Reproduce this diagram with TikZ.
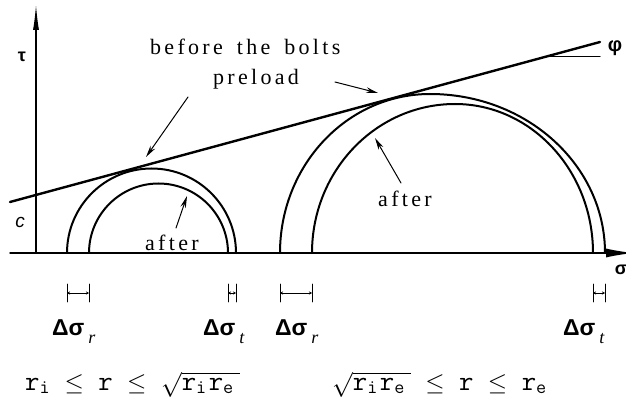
\documentclass[tikz,border=0pt]{standalone}
\usepackage{fontspec}
\setmainfont{Liberation Serif}
\newfontfamily\sansf{Liberation Sans}
\newfontfamily\lblf[LetterSpace=15]{Liberation Serif}
\usetikzlibrary{arrows.meta}
\begin{document}
\begin{tikzpicture}[x=1pt,y=-1pt,line cap=round,
  curve/.style={line width=2pt},
  ax/.style={line width=1.4pt},
  pointer/.style={line width=1pt,-{Stealth[length=12pt,width=5.5pt]}},
  lbl/.style={font=\lblf\fontsize{22}{24}\selectfont,inner sep=0pt,anchor=base west},
  dlt/.style={font=\sansf\bfseries\fontsize{23}{24}\selectfont,inner sep=0pt,anchor=base west},
  frm/.style={font=\ttfamily\fontsize{28}{30}\selectfont,inner sep=0pt,anchor=base west},
  dimline/.style={line width=0.9pt,{Stealth[length=3pt,width=3pt]}-{Stealth[length=3pt,width=3pt]}},
  tickbar/.style={line width=0.9pt},
  axlbl/.style={font=\sansf\bfseries\fontsize{18}{20}\selectfont,inner sep=0pt}
]
\useasboundingbox (0,0) rectangle (626,406);

% axes
\coordinate (O) at (36,253);
\coordinate (xs) at (10,253);
\coordinate (xe) at (634,253);
\coordinate (ye) at (36,4);
\draw[ax,-{Latex[length=28pt,width=9pt]}] (xs) -- (xe);
\draw[ax,-{Latex[length=26pt,width=6pt]}] (O) -- (ye);
\node[axlbl] (tau) at (22,57) {τ};
\node[axlbl] (sig) at (621,270) {σ};
\node[font=\sansf\itshape\fontsize{19}{20}\selectfont,inner sep=0pt] (c) at (20,222) {c};

% envelope line
\coordinate (t1) at (10,202);
\coordinate (t2) at (600,42);
\draw[line width=2.4pt] (t1) -- (t2);
\coordinate (p1) at (545,57);
\coordinate (p2) at (600,57);
\draw[line width=1pt] (p1) -- (p2);
\node[axlbl,font=\sansf\bfseries\fontsize{20}{20}\selectfont] (phi) at (615,48) {φ};

% Mohr circles
\draw[curve] (67,253) arc[start angle=180,end angle=360,radius=84.5];
\draw[curve] (89,253) arc[start angle=180,end angle=360,radius=69.5];
\draw[curve] (280,253) arc[start angle=180,end angle=270,x radius=150,y radius=159]
                       arc[start angle=270,end angle=360,x radius=175,y radius=159];
\draw[curve] (312,253) arc[start angle=180,end angle=270,x radius=143,y radius=149]
                       arc[start angle=270,end angle=360,x radius=138,y radius=149];

% labels
\node[lbl] (before) at (150,55) {before\hspace{14pt}the\hspace{14pt}bolts};
\node[lbl] (preload) at (213,85) {preload};
\node[lbl] (afterL) at (378,207) {after};
\node[lbl] (afterS) at (145,250) {after};

% pointers
\coordinate (a1s) at (188,97);  \coordinate (a1e) at (146,157);
\coordinate (a2s) at (335,82);  \coordinate (a2e) at (378,93);
\coordinate (a3s) at (401,183); \coordinate (a3e) at (375,138);
\coordinate (a4s) at (176,228); \coordinate (a4e) at (187,196);
\draw[pointer] (a1s) -- (a1e);
\draw[pointer] (a2s) -- (a2e);
\draw[pointer] (a3s) -- (a3e);
\draw[pointer] (a4s) -- (a4e);

% delta markers
\foreach \a/\b/\n in {67/89/r1,228/236/t1,280/312/r2,593/605/t2}{
  \coordinate (\n a) at (\a,293);
  \coordinate (\n b) at (\b,293);
  \draw[dimline] (\n a) -- (\n b);
  \draw[tickbar] (\a,284) -- (\a,302);
  \draw[tickbar] (\b,284) -- (\b,302);
}
\node[dlt] (dr1) at (52,335) {Δσ\hspace{4pt}\raisebox{-8pt}{\rmfamily\itshape\mdseries\fontsize{18}{18}\selectfont r}};
\node[dlt] (dt1) at (203,335) {Δσ\hspace{4pt}\raisebox{-8pt}{\rmfamily\itshape\mdseries\fontsize{18}{18}\selectfont t}};
\node[dlt] (dr2) at (275,335) {Δσ\hspace{4pt}\raisebox{-8pt}{\rmfamily\itshape\mdseries\fontsize{18}{18}\selectfont r}};
\node[dlt] (dt2) at (563,335) {Δσ\hspace{4pt}\raisebox{-8pt}{\rmfamily\itshape\mdseries\fontsize{18}{18}\selectfont t}};

% formulas
\node[frm] (f1) at (25,390) {r\textsubscript{i} $\leq$ r $\leq$ $\sqrt{\hbox{\ttfamily\fontsize{28}{30}\selectfont r\textsubscript{i}\hspace{2pt}r\textsubscript{e}\hspace{6pt}}}$};
\node[frm] (f2) at (332,390) {$\sqrt{\hbox{\ttfamily\fontsize{28}{30}\selectfont r\textsubscript{i}\hspace{2pt}r\textsubscript{e}\hspace{6pt}}}$ $\leq$ r $\leq$ r\textsubscript{e}};
\end{tikzpicture}
\end{document}
